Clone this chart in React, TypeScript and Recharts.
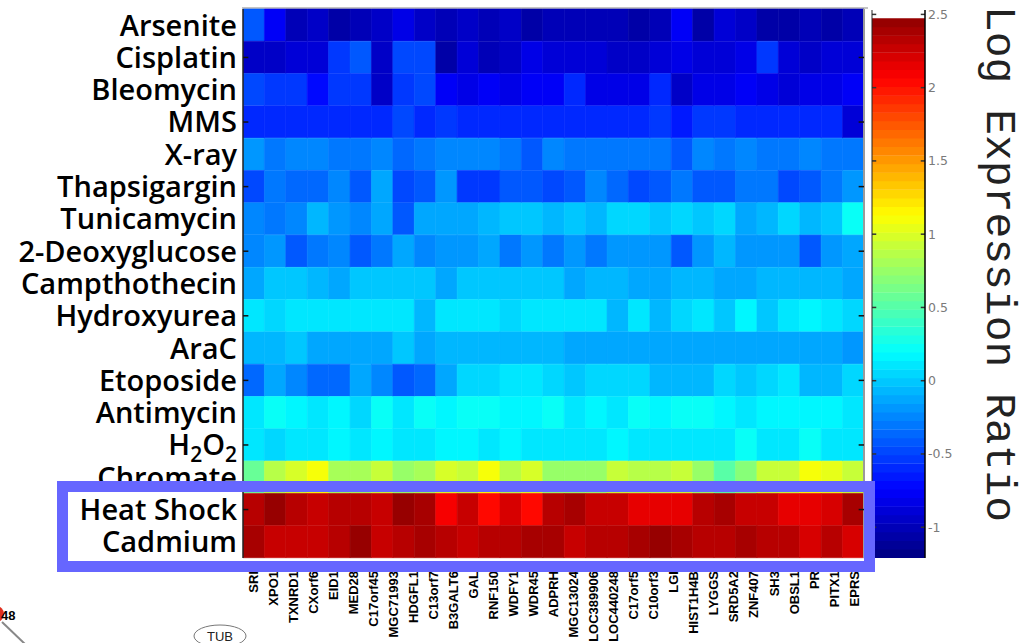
import React from 'react';
import {
  BarChart,
  Bar,
  Cell,
  XAxis,
  YAxis,
  ComposedChart,
  ReferenceArea,
  ReferenceLine,
} from 'recharts';

// ---- categories ----
const conditions = [
  'Arsenite', 'Cisplatin', 'Bleomycin', 'MMS', 'X-ray', 'Thapsigargin', 'Tunicamycin',
  '2-Deoxyglucose', 'Campthothecin', 'Hydroxyurea', 'AraC', 'Etoposide', 'Antimycin',
  'H2O2', 'Chromate', 'Heat Shock', 'Cadmium',
];

const genes = [
  'SRI', 'XPO1', 'TXNRD1', 'CXorf6', 'EID1', 'MED28', 'C17orf45', 'MGC71993', 'HDGFL1',
  'C13orf7', 'B3GALT6', 'GAL', 'RNF150', 'WDFY1', 'WDR45', 'ADPRH', 'MGC13024',
  'LOC389906', 'LOC440248', 'C17orf5', 'C10orf3', 'LGI', 'HIST1H4B', 'LYGGS', 'SRD5A2',
  'ZNF407', 'SH3', 'OBSL1', 'PR', 'PITX1', 'EPRS',
];

// ---- series values (log expression ratio), one array per condition ----
const arsenite = [-0.43,-0.8,-1.01,-0.95,-1.06,-1.01,-0.95,-0.82,-0.92,-1.01,-0.95,-0.98,-0.95,-1.04,-0.98,-0.98,-0.98,-0.98,-1.06,-0.98,-0.8,-1.06,-0.9,-0.95,-1.06,-1.06,-0.98,-1.06,-1.01];
const cisplatin = [-0.92,-0.92,-0.88,-0.88,-0.56,-0.45,-0.95,-0.5,-0.5,-1.06,-0.9,-0.98,-0.92,-0.84,-0.86,-0.86,-0.86,-0.92,-0.92,-0.88,-0.82,-0.88,-0.88,-0.82,-0.55,-0.9,-0.95,-0.88,-0.86];
const bleomycin = [-0.5,-0.56,-0.56,-0.72,-0.56,-0.56,-0.95,-0.53,-0.48,-0.8,-0.82,-0.76,-0.82,-0.76,-0.76,-0.62,-0.82,-0.82,-0.82,-0.58,-0.92,-0.82,-0.82,-0.76,-0.84,-0.9,-0.82,-0.82,-0.76];
const mms = [-0.6,-0.6,-0.6,-0.6,-0.6,-0.6,-0.58,-0.5,-0.62,-0.55,-0.58,-0.58,-0.58,-0.58,-0.58,-0.62,-0.62,-0.62,-0.62,-0.55,-0.65,-0.52,-0.52,-0.62,-0.62,-0.62,-0.62,-0.62,-0.9];
const xray = [-0.18,-0.33,-0.27,-0.24,-0.3,-0.3,-0.27,-0.36,-0.33,-0.24,-0.27,-0.24,-0.33,-0.4,-0.27,-0.3,-0.3,-0.3,-0.33,-0.33,-0.4,-0.24,-0.3,-0.24,-0.33,-0.33,-0.24,-0.3,-0.3];
const thapsigargin = [-0.5,-0.3,-0.36,-0.36,-0.27,-0.43,-0.1,-0.5,-0.4,-0.18,-0.56,-0.56,-0.4,-0.43,-0.46,-0.43,-0.27,-0.36,-0.48,-0.4,-0.3,-0.43,-0.43,-0.3,-0.3,-0.5,-0.4,-0.3,-0.18];
const tunicamycin = [-0.27,-0.33,-0.24,-0.05,-0.18,-0.27,-0.15,-0.43,-0.15,-0.1,-0.1,-0.07,0.0,0.0,-0.07,-0.02,-0.07,0.02,0.02,-0.02,0.02,-0.02,0.02,-0.1,-0.06,0.02,-0.06,-0.02,0.2];
const deoxyglucose = [-0.27,-0.21,-0.4,-0.33,-0.27,-0.45,-0.33,-0.15,-0.27,-0.21,-0.18,-0.15,-0.33,-0.21,-0.33,-0.21,-0.33,-0.21,-0.18,-0.18,-0.43,-0.21,-0.05,-0.21,-0.21,-0.21,-0.45,-0.18,-0.15];
const campthothecin = [-0.1,0.0,0.0,-0.05,-0.1,-0.03,-0.03,-0.03,-0.03,-0.12,-0.03,-0.03,-0.03,-0.03,0.0,-0.1,-0.05,-0.05,-0.1,-0.1,-0.05,-0.05,-0.1,-0.1,-0.05,-0.05,-0.05,-0.05,-0.1];
const hydroxyurea = [0.1,0.03,0.12,0.08,0.08,0.08,0.08,0.08,-0.07,0.08,0.08,0.08,0.03,0.08,0.08,0.08,0.08,-0.05,0.08,-0.05,0.03,0.08,-0.02,0.18,-0.02,0.08,0.15,0.1,0.03];
const arac = [-0.07,-0.07,0.0,-0.1,-0.1,-0.1,-0.13,0.0,-0.13,-0.08,-0.08,-0.05,-0.08,-0.08,-0.08,-0.13,-0.1,-0.1,-0.15,-0.15,-0.1,-0.15,-0.15,-0.12,-0.12,-0.12,-0.12,-0.12,-0.17];
const etoposide = [-0.34,-0.13,-0.24,-0.34,-0.34,-0.13,-0.24,-0.4,-0.34,-0.13,0.06,0.06,0.12,0.08,0.03,0.0,0.05,0.05,0.05,-0.05,-0.05,-0.05,0.06,0.0,0.06,0.1,-0.05,-0.07,0.03];
const antimycin = [0.1,0.2,0.15,0.12,0.16,0.05,0.2,0.12,0.2,0.18,0.23,0.2,0.18,0.18,0.2,0.12,0.18,0.1,0.2,0.18,0.22,0.2,0.18,0.1,0.16,0.18,0.18,0.18,0.08];
const h2o2 = [0.1,0.03,0.13,0.13,0.18,0.13,0.18,0.08,0.13,0.18,0.18,0.13,0.18,0.13,0.08,0.08,0.13,0.18,0.13,0.13,0.1,0.13,0.08,0.2,0.13,0.13,0.2,0.08,0.08];
const chromate = [0.6,0.87,1.0,1.08,0.83,0.83,0.95,0.77,0.83,0.99,0.95,1.07,0.87,0.99,0.72,0.77,0.77,0.92,0.87,0.87,0.92,0.72,0.52,0.66,0.95,0.92,1.1,1.02,0.92];
const heatShock = [2.33,2.43,2.3,2.25,2.3,2.3,2.28,2.43,2.38,2.12,2.28,2.05,2.2,2.05,2.33,2.4,2.28,2.25,2.15,2.15,2.15,2.3,2.38,2.28,2.25,2.15,2.15,2.2,2.38];
const cadmium = [2.4,2.25,2.25,2.28,2.33,2.43,2.28,2.33,2.38,2.33,2.28,2.3,2.33,2.38,2.38,2.25,2.3,2.3,2.38,2.43,2.38,2.3,2.33,2.38,2.33,2.33,2.2,2.3,2.2];

const matrix = [
  arsenite, cisplatin, bleomycin, mms, xray, thapsigargin, tunicamycin, deoxyglucose,
  campthothecin, hydroxyurea, arac, etoposide, antimycin, h2o2, chromate, heatShock, cadmium,
];

// ---- colour scale ----
const colorMin = -1.21;
const colorMax = 2.53;
const colorLevels = 64;
const colorbarTicks = [-1, -0.5, 0, 0.5, 1, 1.5, 2, 2.5];

function jetLevel(k: number): string {
  const t = (k + 0.5) / colorLevels;
  const c = (x: number) => Math.round(255 * Math.max(0, Math.min(1, x)));
  return `rgb(${c(1.5 - Math.abs(4 * t - 3))},${c(1.5 - Math.abs(4 * t - 2))},${c(1.5 - Math.abs(4 * t - 1))})`;
}
function jet(v: number): string {
  let k = Math.floor(((v - colorMin) / (colorMax - colorMin)) * colorLevels);
  k = Math.max(0, Math.min(colorLevels - 1, k));
  return jetLevel(k);
}

const columns = arsenite.map((_, j) => j);
const rows = conditions.map((name, i) => {
  const r: any = { name };
  columns.forEach((j) => {
    r[`w${j}`] = 1;
  });
  r.values = matrix[i];
  return r;
});
const geneTicks = genes.map((_, i) => i + 0.5);
const tickedRows = conditions.filter((_, i) => i % 2 === 1);

const levelStep = (colorMax - colorMin) / colorLevels;
const levels = Array.from({ length: colorLevels }, (_, k) => ({
  lo: colorMin + k * levelStep,
  hi: colorMin + (k + 1) * levelStep,
  fill: jetLevel(k),
}));

const labelFont = '"Open Sans", "Noto Sans", sans-serif';

const ConditionTick = (props: any) => {
  const { x, y, payload } = props;
  const common = {
    x,
    y,
    dy: '0.36em',
    textAnchor: 'end' as const,
    fontFamily: labelFont,
    fontWeight: 600,
    fontSize: 29,
    fill: '#000',
  };
  if (payload.value === 'H2O2') {
    return (
      <text {...common}>
        H<tspan fontSize={21} dy={7}>2</tspan>
        <tspan dy={-7}>O</tspan>
        <tspan fontSize={21} dy={7}>2</tspan>
      </text>
    );
  }
  return <text {...common}>{payload.value}</text>;
};

const GeneTick = (props: any) => {
  const { x, payload } = props;
  const y0 = 571;
  const label = genes[Math.floor(payload.value)];
  return (
    <text
      x={x}
      y={y0}
      dy="0.36em"
      transform={`rotate(-90, ${x}, ${y0})`}
      textAnchor="end"
      fontFamily='"Liberation Sans", Arial, sans-serif'
      fontWeight={700}
      fontSize={13}
      fill="#000"
    >
      {label}
    </text>
  );
};

export default function App() {
  return (
    <div
      style={{
        position: 'absolute',
        left: 0,
        top: 0,
        width: 1034,
        height: 643,
        overflow: 'hidden',
        background: '#fff',
      }}
    >
      <div
        style={{
          position: 'absolute',
          left: 242,
          top: 7,
          width: 626,
          height: 2,
          background: '#c4c4c4',
        }}
      />
      <div style={{ position: 'absolute', left: 0, top: 0 }}>
        <BarChart
          width={1034}
          height={643}
          data={rows}
          layout="vertical"
          margin={{ top: 9, right: 170, bottom: 0, left: 0 }}
          barCategoryGap={0}
          barGap={0}
        >
          <XAxis xAxisId={0} type="number" domain={[0, columns.length]} hide allowDataOverflow />
          <XAxis
            xAxisId="genes"
            type="number"
            domain={[0, genes.length]}
            ticks={geneTicks}
            interval={0}
            tick={<GeneTick />}
            tickLine={false}
            axisLine={false}
            tickSize={0}
            tickMargin={0}
            height={85}
            allowDataOverflow
          />
          <YAxis
            type="category"
            dataKey="name"
            width={243}
            interval={0}
            tick={<ConditionTick />}
            tickLine={false}
            axisLine={false}
            tickSize={0}
            tickMargin={6}
          />
          {columns.map((j) => (
            <Bar
              key={j}
              dataKey={`w${j}`}
              stackId="heat"
              xAxisId={0}
              isAnimationActive={false}
            >
              {rows.map((r, i) => (
                <Cell
                  key={i}
                  fill={jet(r.values[j])}
                  stroke={jet(r.values[j])}
                  strokeWidth={0.6}
                />
              ))}
            </Bar>
          ))}
          <ReferenceLine xAxisId={0} x={0} stroke="#222" strokeWidth={1.5} />
          <ReferenceLine xAxisId={0} x={columns.length} stroke="#9a9a9a" strokeWidth={2} />
          {tickedRows.map((name) => (
            <ReferenceLine
              key={`tl${name}`}
              xAxisId={0}
              segment={[{ x: 0, y: name }, { x: 0.25, y: name }]}
              stroke="#111"
              strokeWidth={1.5}
            />
          ))}
          {tickedRows.map((name) => (
            <ReferenceLine
              key={`tr${name}`}
              xAxisId={0}
              segment={[{ x: columns.length - 0.25, y: name }, { x: columns.length, y: name }]}
              stroke="#111"
              strokeWidth={1.5}
            />
          ))}
        </BarChart>
      </div>

      <div style={{ position: 'absolute', left: 860, top: 0 }}>
        <ComposedChart
          width={174}
          height={643}
          data={[{ x: 0, y: colorMin }, { x: 1, y: colorMax }]}
          margin={{ top: 10, right: 0, bottom: 85, left: 12 }}
        >
          <XAxis dataKey="x" type="number" domain={[0, 1]} hide allowDataOverflow />
          <YAxis
            dataKey="y"
            orientation="right"
            type="number"
            domain={[colorMin, colorMax]}
            ticks={colorbarTicks}
            interval={0}
            allowDataOverflow
            width={109}
            tickLine={false}
            axisLine={false}
            tickSize={0}
            tickMargin={3}
            tick={{ fill: '#7a7a7a', fontSize: 12.5, fontFamily: '"DejaVu Sans", sans-serif' }}
          />
          {levels.map((l, k) => (
            <ReferenceArea
              key={k}
              x1={0}
              x2={1}
              y1={l.lo}
              y2={l.hi + levelStep * 0.05}
              fill={l.fill}
              fillOpacity={1}
              stroke="none"
            />
          ))}
          {colorbarTicks.map((t) => (
            <ReferenceLine
              key={`l${t}`}
              segment={[{ x: 0, y: t }, { x: 0.08, y: t }]}
              stroke="#333"
              strokeWidth={1.5}
            />
          ))}
          {colorbarTicks.map((t) => (
            <ReferenceLine
              key={`r${t}`}
              segment={[{ x: 0.92, y: t }, { x: 1, y: t }]}
              stroke="#333"
              strokeWidth={1.5}
            />
          ))}
          <ReferenceLine x={0} stroke="#222" strokeWidth={1} />
          <ReferenceLine x={1} stroke="#000" strokeWidth={1.5} />
        </ComposedChart>
      </div>

      <svg
        width={1034}
        height={643}
        style={{ position: 'absolute', left: 0, top: 0, pointerEvents: 'none' }}
      >
        <text
          transform="translate(987, 6) rotate(90)"
          x={0}
          y={0}
          fontFamily='"Liberation Mono", "DejaVu Sans Mono", monospace'
          fontSize={43}
          fill="#222"
        >
          Log Expression Ratio
        </text>
        <circle cx={-4} cy={614} r={8} fill="#e03020" />
        <line x1={2} y1={622} x2={26} y2={645} stroke="#888" strokeWidth={2} />
        <text x={1} y={620} fontFamily='"Liberation Sans", Arial, sans-serif' fontSize={13} fontWeight={700} fill="#000">
          48
        </text>
        <ellipse cx={220} cy={636} rx={26} ry={11} fill="none" stroke="#777" strokeWidth={1} />
        <text x={220} y={641} textAnchor="middle" fontFamily='"Liberation Sans", Arial, sans-serif' fontSize={13} fill="#222">
          TUB
        </text>
      </svg>

      <div
        style={{
          position: 'absolute',
          left: 57,
          top: 481,
          width: 818,
          height: 91,
          border: '11px solid #6666ff',
          boxSizing: 'border-box',
        }}
      />
    </div>
  );
}
